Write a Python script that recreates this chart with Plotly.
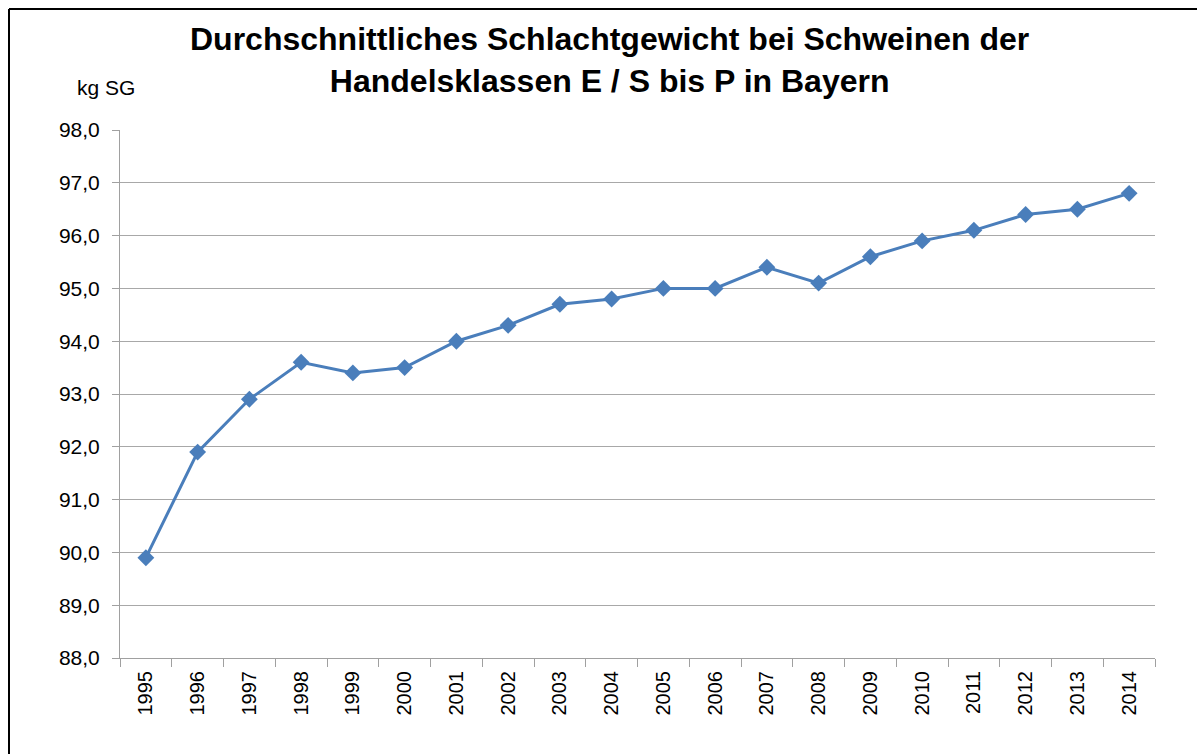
import plotly.graph_objects as go

years = ["1995", "1996", "1997", "1998", "1999", "2000", "2001", "2002", "2003", "2004",
         "2005", "2006", "2007", "2008", "2009", "2010", "2011", "2012", "2013", "2014"]
weights = [89.9, 91.9, 92.9, 93.6, 93.4, 93.5, 94.0, 94.3, 94.7, 94.8,
           95.0, 95.0, 95.4, 95.1, 95.6, 95.9, 96.1, 96.4, 96.5, 96.8]

title_text = "Durchschnittliches Schlachtgewicht bei Schweinen der<br>Handelsklassen E / S bis P in Bayern"
unit_text = "kg SG"

W, H = 1197, 754
L, R, T, B = 120, 42, 130, 96
pw, ph = W - L - R, H - T - B

def px_x(x):
    return (x - L) / pw

def px_y(y):
    return (H - B - y) / ph

fig = go.Figure()
fig.add_trace(go.Scatter(
    x=years, y=weights, mode="lines+markers",
    line=dict(color="#4A7EBB", width=3),
    marker=dict(symbol="diamond", size=13, color="#4A7EBB"),
    showlegend=False,
))

fig.update_layout(
    width=W, height=H,
    margin=dict(l=L, r=R, t=T, b=B),
    paper_bgcolor="white", plot_bgcolor="white",
    separators=",.",
    font=dict(family="Liberation Sans, Arial, sans-serif", color="black"),
    xaxis=dict(
        type="category", tickson="boundaries", ticks="outside", ticklen=8,
        tickcolor="#A0A0A0", showline=True, linecolor="#A0A0A0", linewidth=1,
        showgrid=False, tickangle=-90, tickfont=dict(size=20), fixedrange=True,
        ticklabelstandoff=4, range=[-0.5, len(years) - 0.5],
    ),
    yaxis=dict(
        range=[88, 98], dtick=1, tickformat=".1f", ticks="outside", ticklen=7,
        tickcolor="#A0A0A0", showline=True, linecolor="#A0A0A0", linewidth=1,
        showgrid=True, gridcolor="#A8A8A8", gridwidth=1, zeroline=False,
        tickfont=dict(size=21), ticklabelstandoff=8,
    ),
    annotations=[
        dict(text="<b>" + title_text + "</b>", xref="paper", yref="paper",
             x=px_x(609), y=px_y(60), xanchor="center", yanchor="middle",
             showarrow=False, font=dict(size=32, color="black"), align="center"),
        dict(text=unit_text, xref="paper", yref="paper",
             x=px_x(106), y=px_y(88), xanchor="center", yanchor="middle",
             showarrow=False, font=dict(size=21, color="black")),
    ],
    shapes=[
        dict(type="line", xref="paper", yref="paper",
             x0=px_x(9), x1=px_x(W + 5), y0=px_y(9), y1=px_y(9),
             line=dict(color="black", width=2)),
        dict(type="line", xref="paper", yref="paper",
             x0=px_x(9), x1=px_x(9), y0=px_y(9), y1=px_y(H + 5),
             line=dict(color="black", width=2)),
    ],
)

fig.write_html("out.html", config={"displayModeBar": False},
               post_script="document.body.style.margin='0';document.body.style.overflow='hidden';")
